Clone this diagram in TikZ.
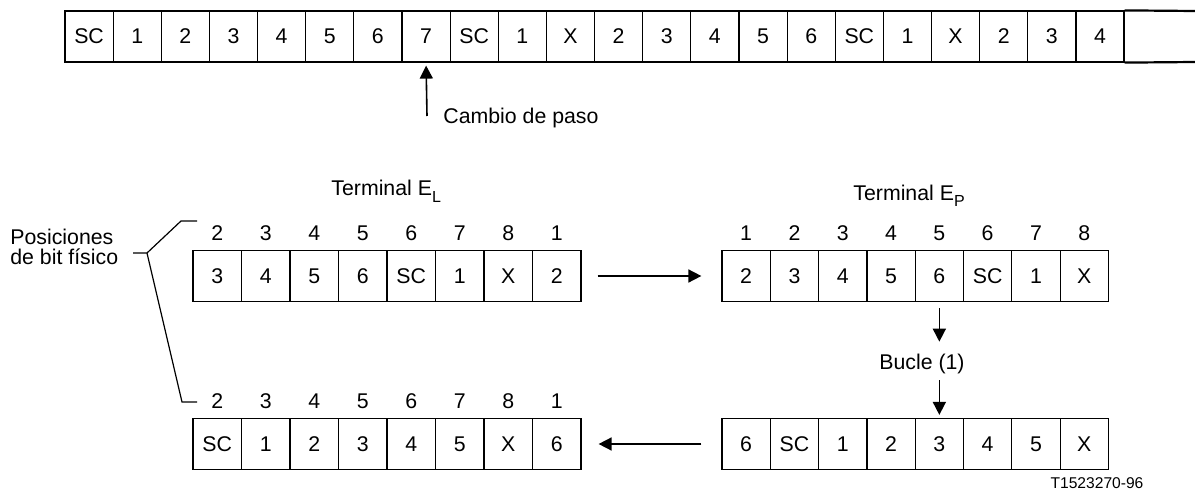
\documentclass[tikz,border=0pt]{standalone}
\usepackage{fontspec}
\setmainfont{Liberation Sans}
\usetikzlibrary{arrows.meta}
\newcommand{\lowsub}[1]{\raisebox{-0.55ex}{\fontsize{8}{9}\selectfont #1}}
\begin{document}
\begin{tikzpicture}[x=0.5pt,y=-0.5pt]
\tikzset{cell/.style={draw,line width=0.6pt,minimum height=25.5pt,inner sep=0pt,font=\fontsize{10.65}{12}\selectfont},
  posnum/.style={inner sep=0pt,font=\fontsize{10.65}{12}\selectfont},
  lbl/.style={inner sep=0pt,font=\fontsize{10.65}{12}\selectfont},
  arr/.style={line width=0.8pt,-{Triangle[length=6.5pt,width=6.5pt]}}}
\useasboundingbox (0,0) rectangle (1195,492);
\foreach \l [count=\i] in {SC,1,2,3,4,5,6,7,SC,1,X,2,3,4,5,6,SC,1,X,2,3,4}
  \node[cell,minimum width=24.07pt] (t\i) at ({65+48.14*(\i-0.5)},36.5) {\l};
\draw[line width=1.1pt] (t22.north east) -- (1195,11) (t22.south east) -- (1195,62);
\coordinate (cambio) at (427,116);
\node[lbl,anchor=west] (paso) at (443,118) {Cambio de paso};
\draw[arr,shorten >=1.5pt] (cambio) -- (t8.south);
\foreach \l/\p [count=\i] in {3/2,4/3,5/4,6/5,SC/6,1/7,X/8,2/1} {
  \node[cell,minimum width=24.25pt] (a\i) at ({193+48.5*(\i-0.5)},276) {\l};
  \node[posnum] (pa\i) at ({193+48.5*(\i-0.5)},233) {\p};
}
\foreach \l/\p [count=\i] in {2/1,3/2,4/3,5/4,6/5,SC/6,1/7,X/8} {
  \node[cell,minimum width=24.15pt] (b\i) at ({722+48.3*(\i-0.5)},276) {\l};
  \node[posnum] (pb\i) at ({722+48.3*(\i-0.5)},233) {\p};
}
\foreach \l [count=\i] in {6,SC,1,2,3,4,5,X}
  \node[cell,minimum width=24.15pt] (c\i) at ({722+48.3*(\i-0.5)},444) {\l};
\foreach \l/\p [count=\i] in {SC/2,1/3,2/4,3/5,4/6,5/7,X/8,6/1} {
  \node[cell,minimum width=24.25pt] (d\i) at ({193+48.5*(\i-0.5)},444) {\l};
  \node[posnum] (pd\i) at ({193+48.5*(\i-0.5)},401) {\p};
}
\node[lbl,anchor=base west] (termL) at (331,196) {Terminal E\lowsub{L}};
\node[lbl,anchor=base west] (termP) at (853,200) {Terminal E\lowsub{P}};
\node[lbl] (bucle) at (922,364) {Bucle (1)};
\draw[arr,shorten <=8pt,shorten >=10pt] (a8.east) -- (b1.west);
\draw[arr,shorten <=10pt,shorten >=8.5pt] (c1.west) -- (d8.east);
\draw[arr,shorten <=3pt,shorten >=6pt] (b5.south) -- (b5.south |- bucle.north);
\draw[arr,shorten <=3pt,shorten >=1.5pt] (c5.north |- bucle.south) -- (c5.north);
\node[lbl,align=left,anchor=west,font=\fontsize{10.65}{10}\selectfont] (posic) at (10,247) {Posiciones\\de bit físico};
\coordinate (br) at (147,253);
\draw[line width=0.6pt] (133,253) -- (br) -- (181,221) -- (197,221) (br) -- (182,402) -- (197,402);
\node[inner sep=0pt,font=\fontsize{7.8}{9}\selectfont] (ref) at (1097,483) {T1523270-96};
\end{tikzpicture}
\end{document}
